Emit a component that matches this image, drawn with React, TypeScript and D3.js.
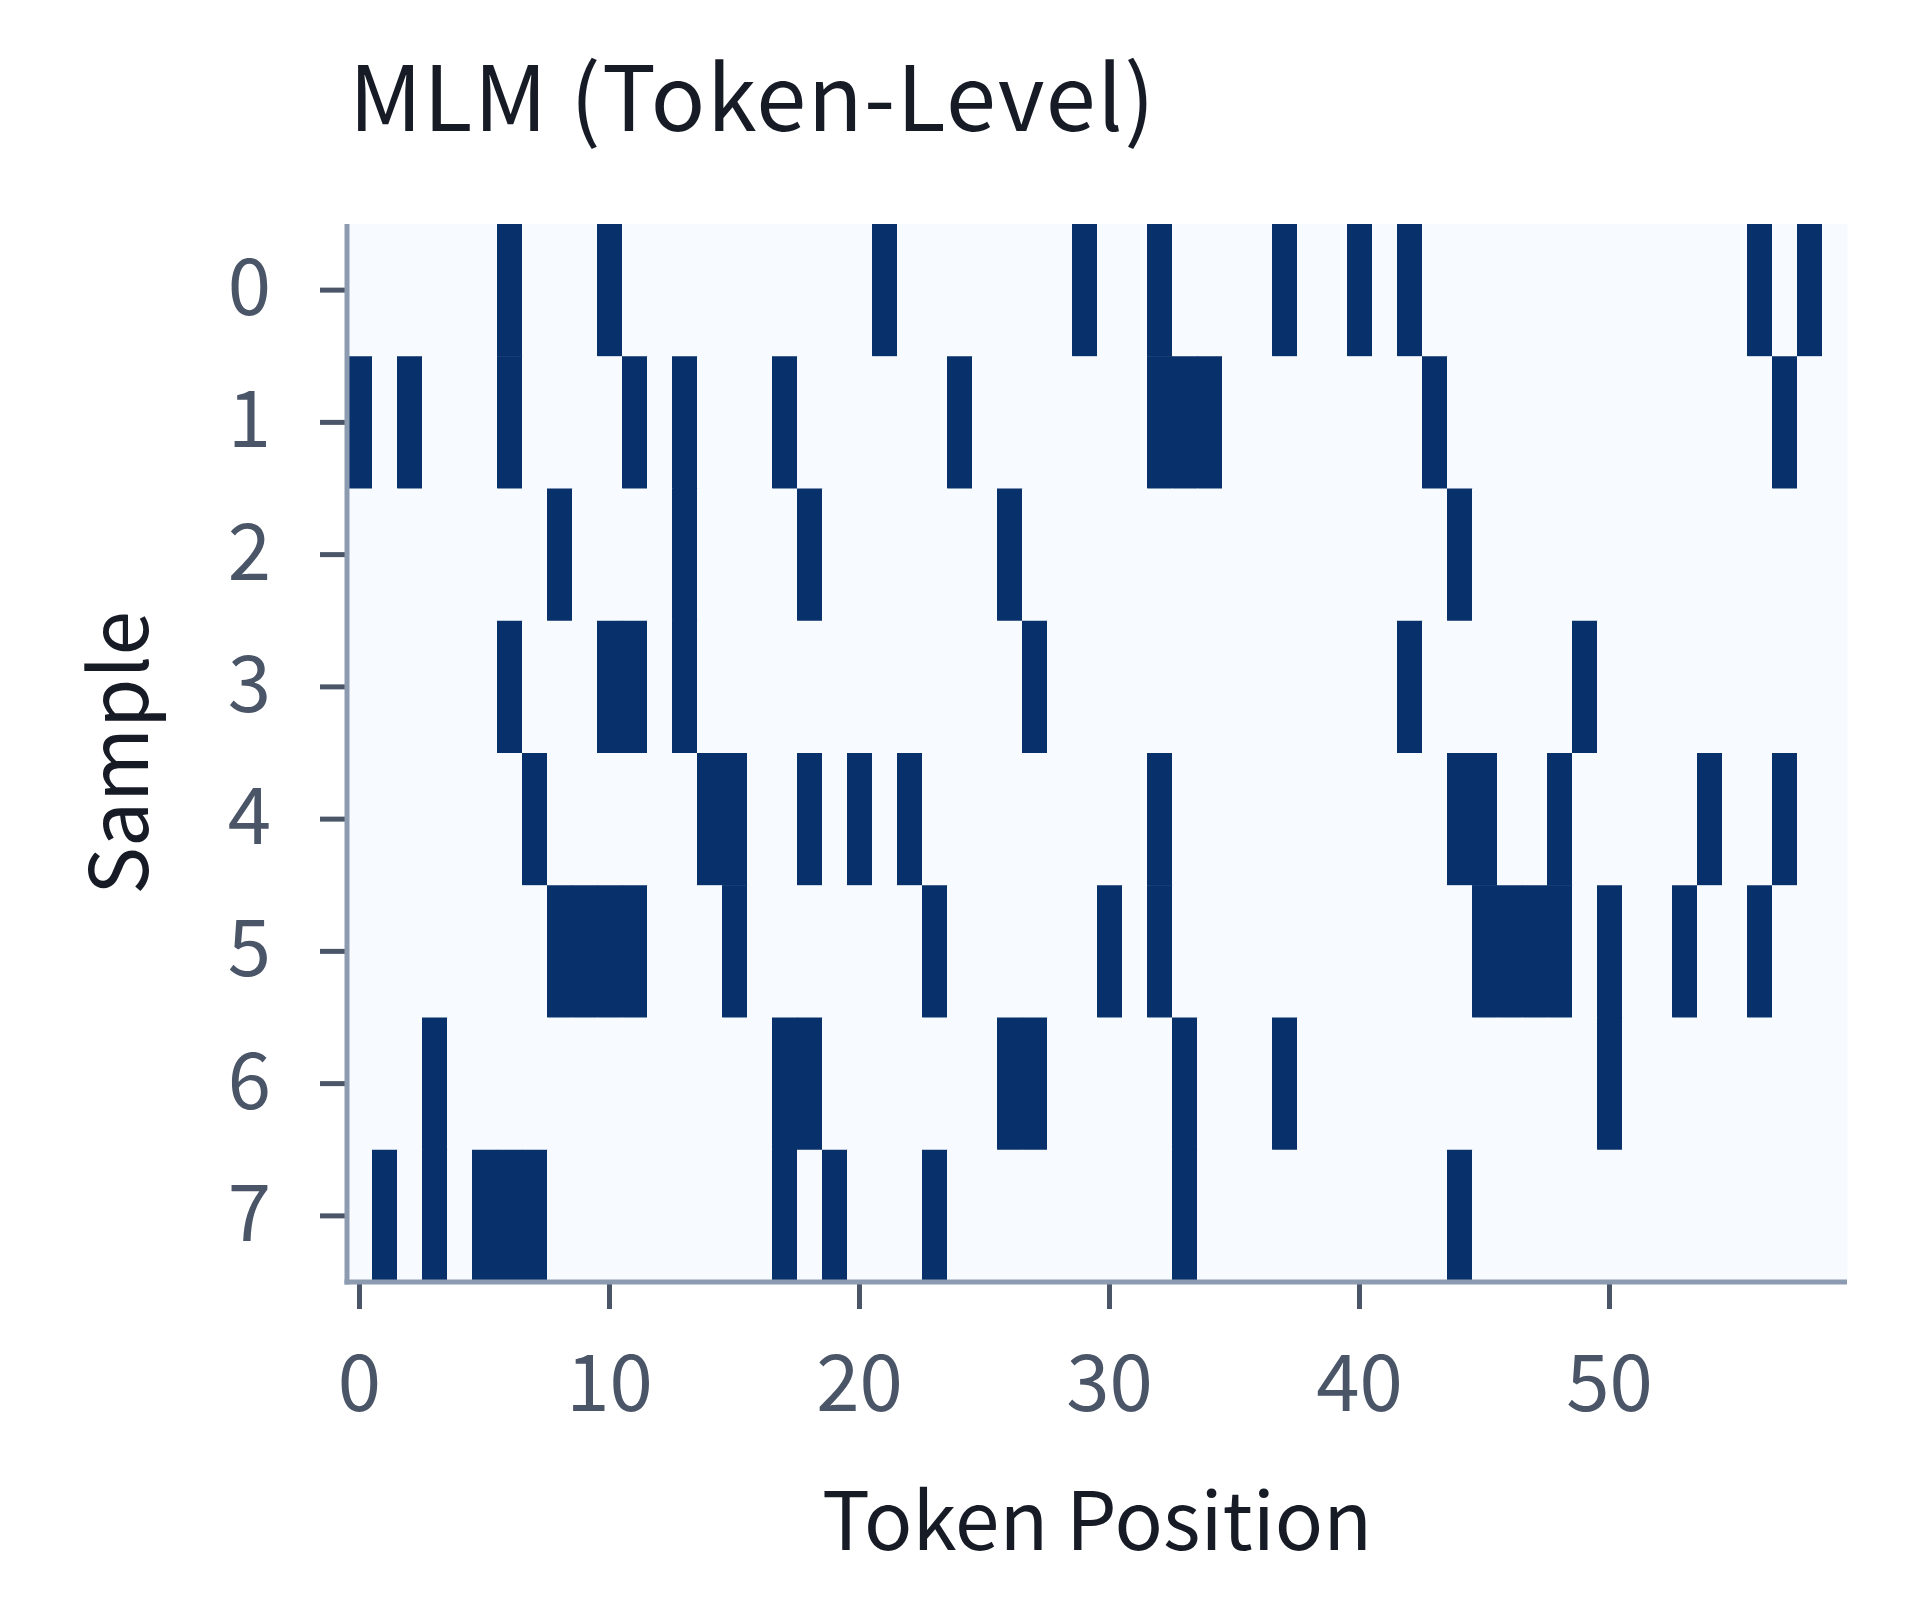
import React from "react";
import * as d3 from "d3";

// masked token positions per sample (value 1 = masked)
const sample0 = [6, 10, 21, 29, 32, 37, 40, 42, 56, 58];
const sample1 = [0, 2, 6, 11, 13, 17, 24, 32, 33, 34, 43, 57];
const sample2 = [8, 13, 18, 26, 44];
const sample3 = [6, 10, 11, 13, 27, 42, 49];
const sample4 = [7, 14, 15, 18, 20, 22, 32, 44, 45, 48, 54, 57];
const sample5 = [8, 9, 10, 11, 15, 23, 30, 32, 45, 46, 47, 48, 50, 53, 56];
const sample6 = [3, 17, 18, 26, 27, 33, 37, 50];
const sample7 = [1, 3, 5, 6, 7, 17, 19, 23, 33, 44];

const samples = [sample0, sample1, sample2, sample3, sample4, sample5, sample6, sample7];
const nTokens = 60;
const xTicks = [0, 10, 20, 30, 40, 50];

const title = "MLM (Token-Level)";
const xLabel = "Token Position";
const yLabel = "Sample";

const W = 1920;
const H = 1600;
const margin = {top: 224, right: 73, bottom: 318, left: 347};
const FONT = "'Noto Sans CJK KR', 'Noto Sans', sans-serif";

export default function App() {
    const innerW = W - margin.left - margin.right;
    const innerH = H - margin.top - margin.bottom;

    const cells = samples.flatMap((row, r) =>
        d3.range(nTokens).map(c => ({r, c, v: row.includes(c) ? 1 : 0}))
    );

    const x = d3.scaleBand<number>().domain(d3.range(nTokens)).range([0, innerW]).padding(0);
    const y = d3.scaleBand<number>().domain(d3.range(samples.length)).range([0, innerH]).padding(0);
    const color = d3.scaleLinear<string>().domain([0, 1]).range(["#f7fbff", "#08306b"]);

    const xAxis = d3.axisBottom(x).tickValues(xTicks).tickSize(27).tickPadding(47).tickSizeOuter(0);
    const yAxis = d3.axisLeft(y).tickSize(27).tickPadding(49).tickSizeOuter(0);

    const styleAxis = (g: any) => {
        g.select(".domain").remove();
        g.selectAll(".tick line").attr("stroke", "#4a5568").attr("stroke-width", 5);
        g.selectAll(".tick text")
            .attr("fill", "#4a5568")
            .style("font-family", FONT)
            .style("font-size", "78px");
    };

    return (
        <svg width={W} height={H} style={{position: "absolute", left: 0, top: 0, background: "#fff"}}>
            <text x={margin.left + 2} y={131} fill="#161b26" fontFamily={FONT} fontSize={90}
                  letterSpacing={1.5}>
                {title}
            </text>
            <g transform={`translate(${margin.left},${margin.top})`}>
                {cells.map(d => (
                    <rect key={`${d.r}-${d.c}`} x={x(d.c)} y={y(d.r)} width={x.bandwidth() + 0.5}
                          height={y.bandwidth() + 0.5} fill={color(d.v)}/>
                ))}
                <g transform={`translate(0,${innerH})`}
                   ref={ref => { if (ref) d3.select(ref).call(xAxis).call(styleAxis); }}/>
                <g ref={ref => { if (ref) d3.select(ref).call(yAxis).call(styleAxis); }}/>
                <line x1={0} x2={0} y1={0} y2={innerH + 2.5} stroke="#8d9bb0" strokeWidth={5}/>
                <line x1={-2.5} x2={innerW} y1={innerH} y2={innerH} stroke="#8d9bb0" strokeWidth={5}/>
                <text x={innerW / 2} y={innerH + 268} textAnchor="middle" fill="#161b26"
                      fontFamily={FONT} fontSize={80}>
                    {xLabel}
                </text>
                <text transform={`translate(${148 - margin.left},${innerH / 2}) rotate(-90)`}
                      textAnchor="middle" fill="#161b26" fontFamily={FONT} fontSize={80}>
                    {yLabel}
                </text>
            </g>
        </svg>
    );
}
